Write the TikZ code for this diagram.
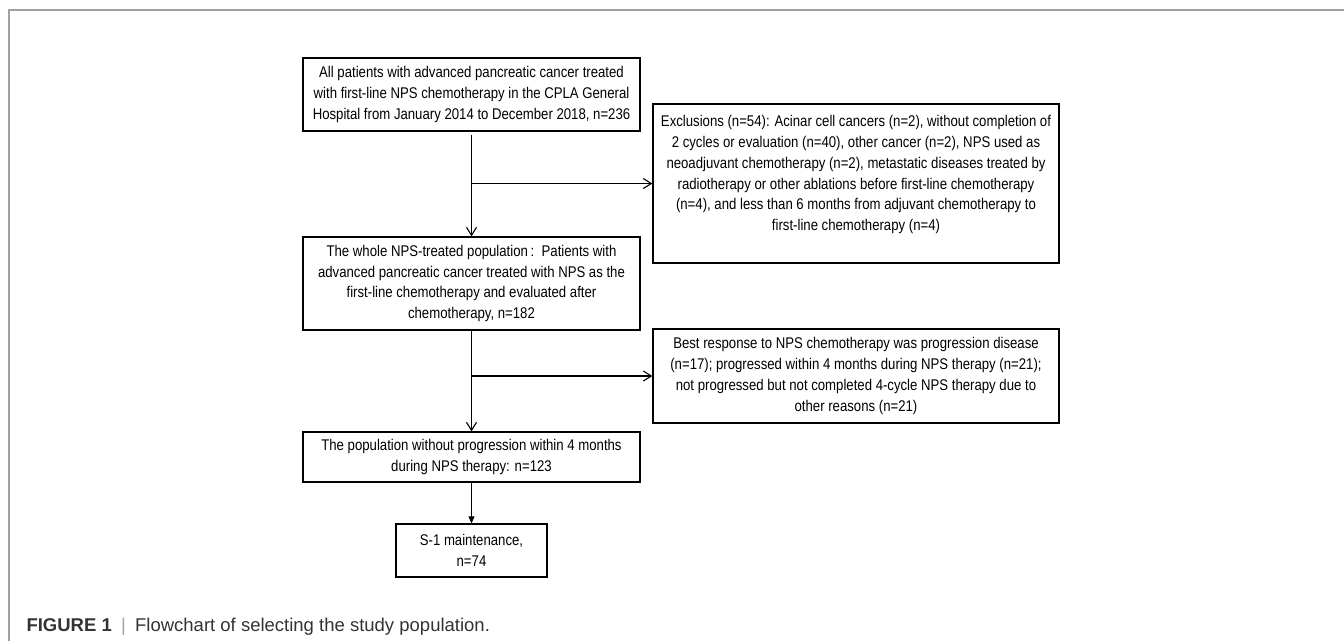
\documentclass[tikz,border=0pt]{standalone}
\usepackage{fontspec}
\setmainfont{Liberation Sans}[FakeStretch=0.85]
\newfontfamily\capfont{Liberation Sans}
\usetikzlibrary{arrows.meta}

\definecolor{framegray}{HTML}{A0A0A0}
\definecolor{captext}{HTML}{333333}
\newcommand{\boxfont}{\fontsize{15.5pt}{20.8pt}\selectfont}

\begin{document}
\begin{tikzpicture}[
        x=1pt, y=-1pt,
        box/.style={rectangle, draw, line width=1.3pt, align=center, inner sep=0pt, minimum width=337pt, font=\boxfont},
        sidebox/.style={box, minimum width=406pt},
        arrow/.style={-{Straight Barb[length=8pt, width=10pt]}, line width=1.1pt},
        thinarrow/.style={-{Triangle[length=7pt, width=6pt]}, line width=0.8pt}
    ]

        \useasboundingbox (0,0) rectangle (1344,641);
        \draw[framegray, line width=1.5pt] (1344,10) -- (9,10) -- (9,641);

        \node (allpts) [box, minimum height=73pt] at (471.5,94.5) {All patients with advanced pancreatic cancer treated\\with first-line NPS chemotherapy in the CPLA General\\Hospital from January 2014 to December 2018, n=236};
        \node (whole) [box, minimum height=93pt, node distance=189pt, below of=allpts] {The whole NPS-treated population\,:\, Patients with\\advanced pancreatic cancer treated with NPS as the\\first-line chemotherapy and evaluated after\\chemotherapy, n=182};
        \node (noprog) [box, minimum height=50pt, node distance=173.5pt, below of=whole] {The population without progression within 4 months\\during NPS therapy: n=123};
        \node (maint) [box, minimum width=151pt, minimum height=53pt, node distance=93.5pt, below of=noprog] {S-1 maintenance,\\n=74};

        \node (excl) [sidebox, minimum height=159pt, node distance=384.5pt, right of=allpts, yshift=-89pt] {Exclusions (n=54): Acinar cell cancers (n=2), without completion of\\2 cycles or evaluation (n=40), other cancer (n=2), NPS used as\\neoadjuvant chemotherapy (n=2), metastatic diseases treated by\\radiotherapy or other ablations before first-line chemotherapy\\(n=4), and less than 6 months from adjuvant chemotherapy to\\first-line chemotherapy (n=4)\\\mbox{}};
        \node (resp) [sidebox, minimum height=94pt, node distance=384.5pt, right of=whole, yshift=-92.5pt] {Best response to NPS chemotherapy was progression disease\\(n=17); progressed within 4 months during NPS therapy (n=21);\\not progressed but not completed 4-cycle NPS therapy due to\\other reasons (n=21)};

        \coordinate (split1) at (allpts.south |- excl.west);
        \coordinate (split2) at (whole.south |- resp.west);

        \draw[arrow, shorten <=3pt] (allpts) -- (whole);
        \draw[arrow] (split1) -- (excl);
        \draw[arrow] (whole) -- (noprog);
        \draw[arrow] (split2) -- (resp);
        \draw[thinarrow] (noprog) -- (maint);

        \node (caption) [anchor=base west, text=captext, font=\capfont\fontsize{18.5pt}{22pt}\selectfont] at (23,631) {\textbf{FIGURE 1}\enspace{\color{framegray}|}\enspace Flowchart of selecting the study population.};

    \end{tikzpicture}
\end{document}
